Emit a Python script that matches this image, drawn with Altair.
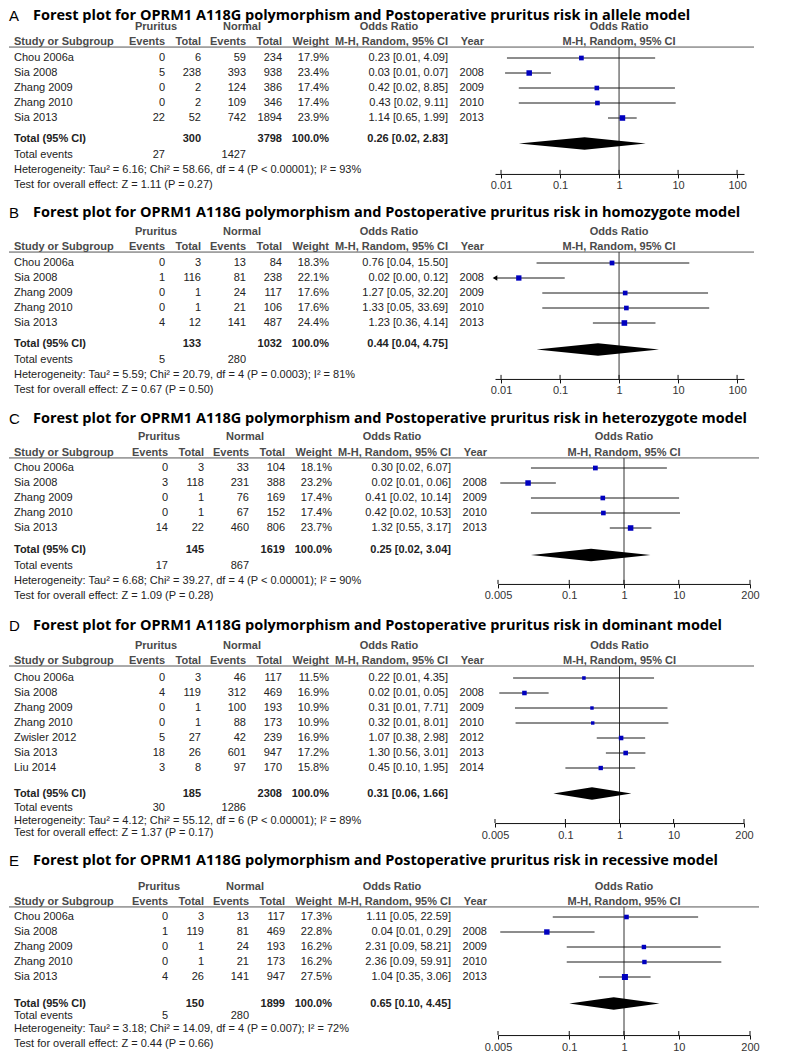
import altair as alt
import pandas as pd

# ---------------- data ----------------
TITLE_TEXT = "Forest plot for OPRM1 A118G polymorphism and Postoperative pruritus risk in {} model"
letters = ["A", "B", "C", "D", "E"]
models = ["allele", "homozygote", "heterozygote", "dominant", "recessive"]

studies_5 = ["Chou 2006a", "Sia 2008", "Zhang 2009", "Zhang 2010", "Sia 2013"]
years_5 = ["", "2008", "2009", "2010", "2013"]
studies_7 = ["Chou 2006a", "Sia 2008", "Zhang 2009", "Zhang 2010", "Zwisler 2012", "Sia 2013", "Liu 2014"]
years_7 = ["", "2008", "2009", "2010", "2012", "2013", "2014"]

# A: allele model
a_pr_events = [0, 5, 0, 0, 22]
a_pr_total = [6, 238, 2, 2, 52]
a_no_events = [59, 393, 124, 109, 742]
a_no_total = [234, 938, 386, 346, 1894]
a_weight = [17.9, 23.4, 17.4, 17.4, 23.9]
a_or = [0.23, 0.03, 0.42, 0.43, 1.14]
a_lo = [0.0126, 0.0117, 0.02, 0.02, 0.65]
a_hi = [4.09, 0.07, 8.85, 9.11, 1.99]
a_total_n = [300, 3798, 100.0]
a_total_or = [0.26, 0.02, 2.83]
a_total_events = [27, 1427]
a_het = "Tau\u00b2 = 6.16; Chi\u00b2 = 58.66, df = 4 (P < 0.00001); I\u00b2 = 93%"
a_test = "Z = 1.11 (P = 0.27)"

# B: homozygote model
b_pr_events = [0, 1, 0, 0, 4]
b_pr_total = [3, 116, 1, 1, 12]
b_no_events = [13, 81, 24, 21, 141]
b_no_total = [84, 238, 117, 106, 487]
b_weight = [18.3, 22.1, 17.6, 17.6, 24.4]
b_or = [0.76, 0.02, 1.27, 1.33, 1.23]
b_lo = [0.04, 0.002, 0.05, 0.05, 0.36]
b_hi = [15.50, 0.12, 32.20, 33.69, 4.14]
b_total_n = [133, 1032, 100.0]
b_total_or = [0.44, 0.04, 4.75]
b_total_events = [5, 280]
b_het = "Tau\u00b2 = 5.59; Chi\u00b2 = 20.79, df = 4 (P = 0.0003); I\u00b2 = 81%"
b_test = "Z = 0.67 (P = 0.50)"

# C: heterozygote model
c_pr_events = [0, 3, 0, 0, 14]
c_pr_total = [3, 118, 1, 1, 22]
c_no_events = [33, 231, 76, 67, 460]
c_no_total = [104, 388, 169, 152, 806]
c_weight = [18.1, 23.2, 17.4, 17.4, 23.7]
c_or = [0.30, 0.0177, 0.41, 0.42, 1.32]
c_lo = [0.02, 0.0055, 0.02, 0.02, 0.55]
c_hi = [6.07, 0.057, 10.14, 10.53, 3.17]
c_total_n = [145, 1619, 100.0]
c_total_or = [0.25, 0.02, 3.04]
c_total_events = [17, 867]
c_het = "Tau\u00b2 = 6.68; Chi\u00b2 = 39.27, df = 4 (P < 0.00001); I\u00b2 = 90%"
c_test = "Z = 1.09 (P = 0.28)"

# D: dominant model
d_pr_events = [0, 4, 0, 0, 5, 18, 3]
d_pr_total = [3, 119, 1, 1, 27, 26, 8]
d_no_events = [46, 312, 100, 88, 42, 601, 97]
d_no_total = [117, 469, 193, 173, 239, 947, 170]
d_weight = [11.5, 16.9, 10.9, 10.9, 16.9, 17.2, 15.8]
d_or = [0.22, 0.0175, 0.31, 0.32, 1.07, 1.30, 0.45]
d_lo = [0.0108, 0.006, 0.0117, 0.012, 0.38, 0.56, 0.10]
d_hi = [4.35, 0.049, 7.71, 8.01, 2.98, 3.01, 1.95]
d_total_n = [185, 2308, 100.0]
d_total_or = [0.31, 0.06, 1.66]
d_total_events = [30, 1286]
d_het = "Tau\u00b2 = 4.12; Chi\u00b2 = 55.12, df = 6 (P < 0.00001); I\u00b2 = 89%"
d_test = "Z = 1.37 (P = 0.17)"

# E: recessive model
e_pr_events = [0, 1, 0, 0, 4]
e_pr_total = [3, 119, 1, 1, 26]
e_no_events = [13, 81, 24, 21, 141]
e_no_total = [117, 469, 193, 173, 947]
e_weight = [17.3, 22.8, 16.2, 16.2, 27.5]
e_or = [1.11, 0.039, 2.31, 2.36, 1.04]
e_lo = [0.05, 0.0055, 0.09, 0.09, 0.35]
e_hi = [22.59, 0.29, 58.21, 59.91, 3.06]
e_total_n = [150, 1899, 100.0]
e_total_or = [0.65, 0.10, 4.45]
e_total_events = [5, 280]
e_het = "Tau\u00b2 = 3.18; Chi\u00b2 = 14.09, df = 4 (P = 0.007); I\u00b2 = 72%"
e_test = "Z = 0.44 (P = 0.66)"

ticks_ab = [0.01, 0.1, 1, 10, 100]
ticks_cde = [0.005, 0.1, 1, 10, 200]

PANELS = [
    dict(studies=studies_5, years=years_5, pr_ev=a_pr_events, pr_tot=a_pr_total, no_ev=a_no_events,
         no_tot=a_no_total, weight=a_weight, orr=a_or, lo=a_lo, hi=a_hi, total_n=a_total_n,
         total_or=a_total_or, total_events=a_total_events, het=a_het, test=a_test, ticks=ticks_ab),
    dict(studies=studies_5, years=years_5, pr_ev=b_pr_events, pr_tot=b_pr_total, no_ev=b_no_events,
         no_tot=b_no_total, weight=b_weight, orr=b_or, lo=b_lo, hi=b_hi, total_n=b_total_n,
         total_or=b_total_or, total_events=b_total_events, het=b_het, test=b_test, ticks=ticks_ab),
    dict(studies=studies_5, years=years_5, pr_ev=c_pr_events, pr_tot=c_pr_total, no_ev=c_no_events,
         no_tot=c_no_total, weight=c_weight, orr=c_or, lo=c_lo, hi=c_hi, total_n=c_total_n,
         total_or=c_total_or, total_events=c_total_events, het=c_het, test=c_test, ticks=ticks_cde),
    dict(studies=studies_7, years=years_7, pr_ev=d_pr_events, pr_tot=d_pr_total, no_ev=d_no_events,
         no_tot=d_no_total, weight=d_weight, orr=d_or, lo=d_lo, hi=d_hi, total_n=d_total_n,
         total_or=d_total_or, total_events=d_total_events, het=d_het, test=d_test, ticks=ticks_cde),
    dict(studies=studies_5, years=years_5, pr_ev=e_pr_events, pr_tot=e_pr_total, no_ev=e_no_events,
         no_tot=e_no_total, weight=e_weight, orr=e_or, lo=e_lo, hi=e_hi, total_n=e_total_n,
         total_or=e_total_or, total_events=e_total_events, het=e_het, test=e_test, ticks=ticks_cde),
]

# ---------------- layout / style ----------------
ROW_PX = 15
TABLE_FONT = "Liberation Sans"
TITLE_FONT = "Open Sans"
BLUE = "#0000BF"
INK = "#222222"
HEAD = "#4a4a4a"
PANEL_W = 750

LAYOUT = [
    dict(h=192, r0=49, title=-2.78, h1=-2.07, h2=-1.07, line=-0.73, total=5.4, diamond=5.7, te=6.47,
         het=7.47, test=8.47, axis=7.73, dom=(0.0079, 131.0), xr=(486, 735), dx=0, line_end=745),
    dict(h=210, r0=62, title=-3.33, h1=-2.07, h2=-1.07, line=-0.73, total=5.4, diamond=5.77, te=6.47,
         het=7.47, test=8.47, axis=7.73, dom=(0.0079, 131.0), xr=(486, 735), dx=0, line_end=745),
    dict(h=205, r0=57, title=-3.27, h1=-2.07, h2=-1.0, line=-0.67, total=5.47, diamond=5.8, te=6.53,
         het=7.53, test=8.53, axis=7.73, dom=(0.005, 200.0), xr=(489, 741), dx=3, line_end=750),
    dict(h=225, r0=62, title=-3.47, h1=-2.13, h2=-1.13, line=-0.8, total=7.73, diamond=7.7, te=8.67,
         het=9.53, test=10.33, axis=9.67, dom=(0.005, 200.0), xr=(486, 735), dx=0, line_end=745),
    dict(h=210, r0=76, title=-3.73, h1=-2.0, h2=-1.0, line=-0.67, total=5.8, diamond=5.77, te=6.6,
         het=7.47, test=8.47, axis=7.87, dom=(0.005, 200.0), xr=(489, 741), dx=3, line_end=750),
]


def build_panel(letter, model, d, L):
    ysc = alt.Scale(domain=[-L["r0"] / ROW_PX, (L["h"] - L["r0"]) / ROW_PX],
                    reverse=True, nice=False, zero=False)

    def Y(f):
        return alt.Y(f, scale=ysc, axis=None)

    dx = L["dx"]
    col = {"study": 5, "ev1": 156 + dx, "tot1": 192 + dx, "ev2": 237 + dx, "tot2": 273 + dx,
           "wt": 320 + dx, "orc": 439 + dx, "year": 475 + dx, "pru": 147 + dx, "nor": 233 + dx,
           "orh": 380 + dx}

    dmin, dmax = L["dom"]
    xsc = alt.Scale(type="log", domain=[dmin, dmax], range=list(L["xr"]), nice=False)
    axis_px = L["r0"] + L["axis"] * ROW_PX
    AX = alt.Axis(values=d["ticks"], labelExpr="'' + datum.value", title=None, grid=False,
                  domainColor="#111111", tickColor="#111111", tickSize=4, domainWidth=1, tickWidth=1,
                  labelFont=TABLE_FONT, labelFontSize=11, labelColor="#333333", labelPadding=2,
                  offset=-(L["h"] - axis_px), labelFlush=False, labelOverlap=False, orient="bottom")

    def X(f):
        return alt.X(f, scale=xsc, axis=AX)

    layers = []

    def txt(rows, xpos, align="right", bold=False, color=INK, size=11, font=TABLE_FONT):
        df = pd.DataFrame(rows, columns=["row", "text"])
        layers.append(
            alt.Chart(df).mark_text(align=align, baseline="middle", font=font, fontSize=size,
                                    fontWeight="bold" if bold else "normal", color=color)
            .encode(x=alt.value(xpos), y=Y("row:Q"), text="text:N"))

    def ftxt(rows, bold=True, color=HEAD):
        df = pd.DataFrame(rows, columns=["row", "text", "xv"])
        layers.append(
            alt.Chart(df).mark_text(align="center", baseline="middle", font=TABLE_FONT, fontSize=11,
                                    fontWeight="bold" if bold else "normal", color=color)
            .encode(x=X("xv:Q"), y=Y("row:Q"), text="text:N"))

    n = len(d["studies"])
    idx = list(range(n))

    # title
    txt([(L["title"], letter)], 0, align="left", size=15, color="#000000")
    txt([(L["title"], TITLE_TEXT.format(model))], 24, align="left", bold=True, size=14.5,
        color="#000000", font=TITLE_FONT)

    # headers
    txt([(L["h1"], "Pruritus")], col["pru"], align="center", bold=True, color=HEAD)
    txt([(L["h1"], "Normal")], col["nor"], align="center", bold=True, color=HEAD)
    txt([(L["h1"], "Odds Ratio")], col["orh"], align="center", bold=True, color=HEAD)
    txt([(L["h2"], "Study or Subgroup")], col["study"], align="left", bold=True, color=HEAD)
    txt([(L["h2"], "Events")], col["ev1"], bold=True, color=HEAD)
    txt([(L["h2"], "Total")], col["tot1"], bold=True, color=HEAD)
    txt([(L["h2"], "Events")], col["ev2"], bold=True, color=HEAD)
    txt([(L["h2"], "Total")], col["tot2"], bold=True, color=HEAD)
    txt([(L["h2"], "Weight")], col["wt"], bold=True, color=HEAD)
    txt([(L["h2"], "M-H, Random, 95% CI")], col["orc"], bold=True, color=HEAD)
    txt([(L["h2"], "Year")], col["year"], bold=True, color=HEAD)
    ftxt([(L["h1"], "Odds Ratio", 1), (L["h2"], "M-H, Random, 95% CI", 1)])

    # header underline
    layers.append(
        alt.Chart(pd.DataFrame({"row": [L["line"]]})).mark_rule(color="#555555", strokeWidth=1)
        .encode(x=alt.value(0), x2=alt.value(L["line_end"]), y=Y("row:Q")))

    # study rows
    txt(list(zip(idx, d["studies"])), col["study"], align="left")
    txt([(i, str(v)) for i, v in zip(idx, d["pr_ev"])], col["ev1"])
    txt([(i, str(v)) for i, v in zip(idx, d["pr_tot"])], col["tot1"])
    txt([(i, str(v)) for i, v in zip(idx, d["no_ev"])], col["ev2"])
    txt([(i, str(v)) for i, v in zip(idx, d["no_tot"])], col["tot2"])
    txt([(i, f"{w:.1f}%") for i, w in zip(idx, d["weight"])], col["wt"])
    txt([(i, f"{o:.2f} [{lo:.2f}, {hi:.2f}]") for i, o, lo, hi in zip(idx, d["orr"], d["lo"], d["hi"])],
        col["orc"])
    txt(list(zip(idx, d["years"])), col["year"])

    # total row
    t_or, t_lo, t_hi = d["total_or"]
    txt([(L["total"], "Total (95% CI)")], col["study"], align="left", bold=True)
    txt([(L["total"], str(d["total_n"][0]))], col["tot1"], bold=True)
    txt([(L["total"], str(d["total_n"][1]))], col["tot2"], bold=True)
    txt([(L["total"], f"{d['total_n'][2]:.1f}%")], col["wt"], bold=True)
    txt([(L["total"], f"{t_or:.2f} [{t_lo:.2f}, {t_hi:.2f}]")], col["orc"], bold=True)

    # total events and statistics
    txt([(L["te"], "Total events")], col["study"], align="left")
    txt([(L["te"], str(d["total_events"][0]))], col["ev1"])
    txt([(L["te"], str(d["total_events"][1]))], col["ev2"])
    txt([(L["het"], "Heterogeneity: " + d["het"])], col["study"], align="left")
    txt([(L["test"], "Test for overall effect: " + d["test"])], col["study"], align="left")

    # ---- forest part ----
    # line of no effect
    layers.append(
        alt.Chart(pd.DataFrame({"xv": [1], "y": [L["line"]], "y2": [L["axis"]]}))
        .mark_rule(color="#333333", strokeWidth=1)
        .encode(x=X("xv:Q"), y=Y("y:Q"), y2="y2:Q"))

    # confidence intervals
    ci = pd.DataFrame({"row": idx, "lo": [max(v, dmin) for v in d["lo"]],
                       "hi": [min(v, dmax) for v in d["hi"]]})
    layers.append(
        alt.Chart(ci).mark_rule(color="#1a1a1a", strokeWidth=1)
        .encode(x=X("lo:Q"), x2="hi:Q", y=Y("row:Q")))

    # arrows for intervals beyond the axis
    arrows = [(i, dmin) for i, v in zip(idx, d["lo"]) if v < dmin]
    if arrows:
        layers.append(
            alt.Chart(pd.DataFrame(arrows, columns=["row", "xv"]))
            .mark_point(shape="triangle-left", filled=True, size=28, color="#000000", opacity=1)
            .encode(x=X("xv:Q"), y=Y("row:Q")))

    # point estimates
    sq = pd.DataFrame({"row": idx, "orr": d["orr"], "weight": d["weight"]})
    layers.append(
        alt.Chart(sq).mark_square(filled=True, color=BLUE, opacity=1)
        .encode(x=X("orr:Q"), y=Y("row:Q"),
                size=alt.Size("weight:Q", scale=alt.Scale(domain=[5, 30], range=[3, 40]), legend=None)))

    # pooled diamond
    hh = 0.42
    dm = pd.DataFrame({"xv": [t_lo, t_or, t_hi],
                       "y": [L["diamond"], L["diamond"] - hh, L["diamond"]],
                       "y2": [L["diamond"], L["diamond"] + hh, L["diamond"]]})
    layers.append(
        alt.Chart(dm).mark_area(color="#000000", orient="vertical", opacity=1)
        .encode(x=X("xv:Q"), y=Y("y:Q"), y2="y2:Q"))

    # upper halves of axis ticks
    tk = pd.DataFrame({"xv": d["ticks"], "y": [L["axis"] - 0.27] * len(d["ticks"]),
                       "y2": [L["axis"]] * len(d["ticks"])})
    layers.append(
        alt.Chart(tk).mark_rule(color="#111111", strokeWidth=1)
        .encode(x=X("xv:Q"), y=Y("y:Q"), y2="y2:Q"))

    return alt.layer(*layers).properties(width=PANEL_W, height=L["h"])


panels = [build_panel(letters[k], models[k], PANELS[k], LAYOUT[k]) for k in range(5)]

chart = (
    alt.vconcat(*panels, spacing=0, bounds="flush")
    .resolve_scale(x="independent", y="independent")
    .properties(padding=0)
    .configure_view(stroke=None)
)

chart.save("out.html", embed_options={"renderer": "svg", "actions": False})
